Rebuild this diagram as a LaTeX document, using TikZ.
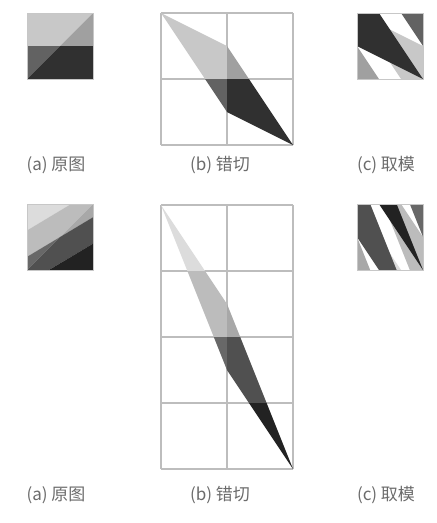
\documentclass[tikz,border=0pt]{standalone}
\usepackage{fontspec}
\usepackage{xcolor}
\usepackage{tikz}
\usetikzlibrary{positioning}
\newfontfamily\cjk{Noto Sans CJK SC}

\definecolor{gL}{HTML}{C8C8C8}
\definecolor{gM}{HTML}{A0A0A0}
\definecolor{gD}{HTML}{626262}
\definecolor{gV}{HTML}{303030}
\definecolor{hA}{HTML}{DCDCDC}
\definecolor{hB}{HTML}{BCBCBC}
\definecolor{hC}{HTML}{A8A8A8}
\definecolor{hD}{HTML}{686868}
\definecolor{hE}{HTML}{505050}
\definecolor{hF}{HTML}{222222}

\begin{document}
\begin{tikzpicture}
  [
    x=0.03cm, y=-0.03cm,
    gridln/.style={draw=black!26, line width=1pt},
    frame/.style={draw=black!22, line width=0.6pt},
    subcap/.style={text=black!58, font=\cjk\fontsize{14.5}{17}\selectfont}
  ]
  \useasboundingbox (0,0) rectangle (436,523);

  % top row: original, shear, modulo
  \begin{scope}[shift={(27,13)}, x=1.98cm, y=-1.98cm]
    \fill[gL] (0,0) -- (1,0) -- (0.5,0.5) -- (0,0.5) -- cycle;
    \fill[gM] (1,0) -- (1,0.5) -- (0.5,0.5) -- cycle;
    \fill[gD] (0,0.5) -- (0.5,0.5) -- (0,1) -- cycle;
    \fill[gV] (0.5,0.5) -- (1,0.5) -- (1,1) -- (0,1) -- cycle;
    \draw[frame] (0,0) rectangle (1,1);
  \end{scope}

  \begin{scope}[shift={(161,13)}, x=1.98cm, y=-1.98cm]
    \foreach \k in {0,1,2} {
      \draw[gridln] (\k,0) -- (\k,2);
      \draw[gridln] (0,\k) -- (2,\k);
    }
    \fill[gL] (0,0) -- (1,0.5) -- (1,1) -- (0.667,1) -- cycle;
    \fill[gM] (1,0.5) -- (1.333,1) -- (1,1) -- cycle;
    \fill[gD] (0.667,1) -- (1,1) -- (1,1.5) -- cycle;
    \fill[gV] (1,1) -- (1.333,1) -- (2,2) -- (1,1.5) -- cycle;
  \end{scope}

  \begin{scope}[shift={(357,13)}, x=1.98cm, y=-1.98cm]
    \fill[gL] (0,0) -- (1,0.5) -- (1,1) -- (0.667,1) -- cycle;
    \fill[gM] (0,0.5) -- (0.333,1) -- (0,1) -- cycle;
    \fill[gD] (0.667,0) -- (1,0) -- (1,0.5) -- cycle;
    \fill[gV] (0,0) -- (0.333,0) -- (1,1) -- (0,0.5) -- cycle;
    \draw[frame] (0,0) rectangle (1,1);
  \end{scope}

  \node (capA1) at (56,165)  [subcap] {(a) 原图};
  \node (capB1) at (220,165) [subcap] {(b) 错切};
  \node (capC1) at (386,165) [subcap] {(c) 取模};

  % bottom row
  \begin{scope}[shift={(27,204)}, x=1.98cm, y=-1.98cm]
    \fill[hA] (0,0) -- (0.667,0) -- (0,0.4) -- cycle;
    \fill[hB] (0.667,0) -- (1,0) -- (0.5,0.5) -- (0,0.8) -- (0,0.4) -- cycle;
    \fill[hC] (1,0) -- (1,0.2) -- (0.5,0.5) -- cycle;
    \fill[hD] (0,0.8) -- (0.5,0.5) -- (0,1) -- cycle;
    \fill[hE] (0.5,0.5) -- (1,0.2) -- (1,0.6) -- (0.333,1) -- (0,1) -- cycle;
    \fill[hF] (1,0.6) -- (1,1) -- (0.333,1) -- cycle;
    \draw[frame] (0,0) rectangle (1,1);
  \end{scope}

  \begin{scope}[shift={(161,205)}, x=1.98cm, y=-1.98cm]
    \foreach \k in {0,1,2} \draw[gridln] (\k,0) -- (\k,4);
    \foreach \k in {0,...,4} \draw[gridln] (0,\k) -- (2,\k);
    \fill[hA] (0,0) -- (0.667,1) -- (0.4,1) -- cycle;
    \fill[hB] (0.4,1) -- (0.667,1) -- (1,1.5) -- (1,2) -- (0.8,2) -- cycle;
    \fill[hC] (1,1.5) -- (1.2,2) -- (1,2) -- cycle;
    \fill[hD] (0.8,2) -- (1,2) -- (1,2.5) -- cycle;
    \fill[hE] (1,2) -- (1.2,2) -- (1.6,3) -- (1.333,3) -- (1,2.5) -- cycle;
    \fill[hF] (1.333,3) -- (1.6,3) -- (2,4) -- cycle;
  \end{scope}

  \begin{scope}[shift={(357,204)}, x=1.98cm, y=-1.98cm]
    \fill[hA] (0,0) -- (0.667,1) -- (0.4,1) -- cycle;
    \fill[hB] (0.4,0) -- (0.667,0) -- (1,0.5) -- (1,1) -- (0.8,1) -- cycle;
    \fill[hC] (0,0.5) -- (0.2,1) -- (0,1) -- cycle;
    \fill[hD] (0.8,0) -- (1,0) -- (1,0.5) -- cycle;
    \fill[hE] (0,0) -- (0.2,0) -- (0.6,1) -- (0.333,1) -- (0,0.5) -- cycle;
    \fill[hF] (0.333,0) -- (0.6,0) -- (1,1) -- cycle;
    \draw[frame] (0,0) rectangle (1,1);
  \end{scope}

  \node (capA2) at (56,495)  [subcap] {(a) 原图};
  \node (capB2) at (220,495) [subcap] {(b) 错切};
  \node (capC2) at (386,495) [subcap] {(c) 取模};
\end{tikzpicture}
\end{document}
